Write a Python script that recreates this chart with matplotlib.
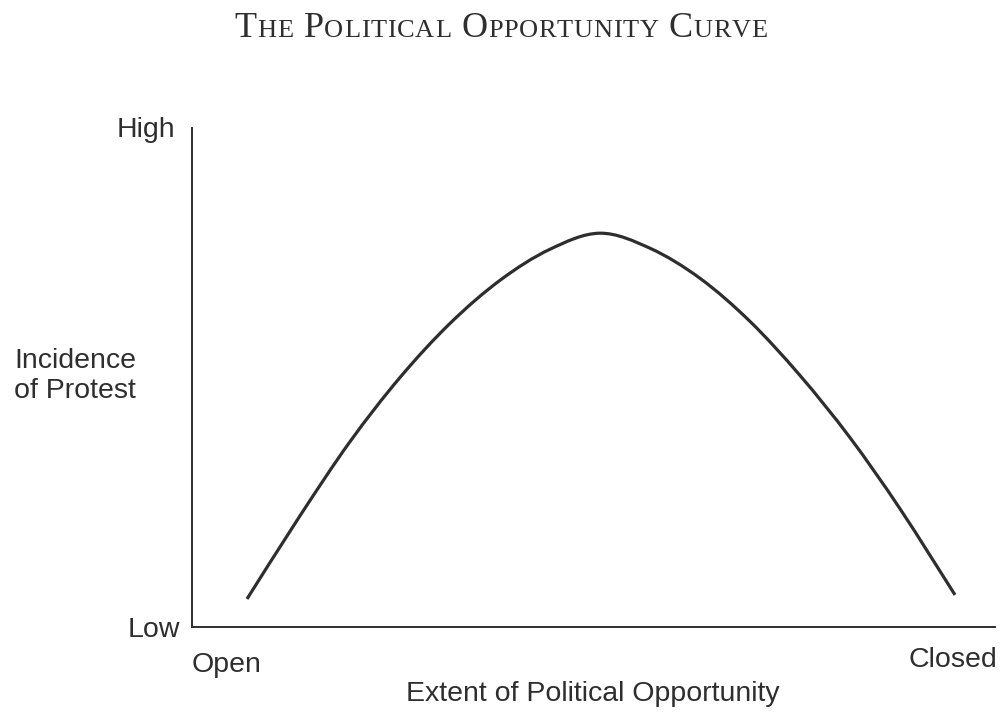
import matplotlib
matplotlib.use("Agg")
import matplotlib.pyplot as plt
from matplotlib.path import Path
from matplotlib.patches import PathPatch

# curve (x: 0 = Open, 100 = Closed; y: 0 = Low, 100 = High)
opportunity = [6.85, 13.45, 19.68, 25.90, 32.13, 38.36, 44.58, 50.81,
               57.04, 63.26, 69.49, 75.72, 81.94, 88.17, 95.02]
protest = [5.62, 22.29, 37.15, 50.00, 60.84, 69.48, 75.70, 78.92,
           75.90, 69.88, 61.24, 50.40, 37.95, 23.69, 6.43]

title_parts = [("T", True), ("HE ", False), ("P", True), ("OLITICAL ", False),
               ("O", True), ("PPORTUNITY ", False), ("C", True), ("URVE", False)]

W, H = 1002, 714
fig = plt.figure(figsize=(W / 100, H / 100), dpi=100)
ax = fig.add_axes([192 / W, (H - 627) / H, (995 - 192) / W, (627 - 128) / H])

ink = "#2e2e2e"

# smooth curve through the read points (Catmull-Rom drawn as cubic Bezier segments)
pts = list(zip(opportunity, protest))
verts = [pts[0]]
codes = [Path.MOVETO]
for i in range(len(pts) - 1):
    p0 = pts[i - 1] if i > 0 else pts[i]
    p1, p2 = pts[i], pts[i + 1]
    p3 = pts[i + 2] if i + 2 < len(pts) else pts[i + 1]
    c1 = (p1[0] + (p2[0] - p0[0]) / 6, p1[1] + (p2[1] - p0[1]) / 6)
    c2 = (p2[0] - (p3[0] - p1[0]) / 6, p2[1] - (p3[1] - p1[1]) / 6)
    verts += [c1, c2, p2]
    codes += [Path.CURVE4] * 3
ax.add_patch(PathPatch(Path(verts, codes), facecolor="none", edgecolor=ink,
                       lw=2.3, capstyle="butt"))

ax.set_xlim(0, 100)
ax.set_ylim(0, 100)
ax.set_xticks([])
ax.set_yticks([])
for side in ["top", "right"]:
    ax.spines[side].set_visible(False)
for side in ["left", "bottom"]:
    ax.spines[side].set_color(ink)
    ax.spines[side].set_linewidth(1.4)

sans = "Liberation Sans"
fs = 20.5
fig.text(175 / W, 1 - 130 / H, "High", ha="right", va="center",
         fontsize=fs, family=sans, color=ink)
fig.text(180 / W, 1 - 630 / H, "Low", ha="right", va="center",
         fontsize=fs, family=sans, color=ink)
fig.text(14 / W, 1 - 376 / H, "Incidence\nof Protest", ha="left", va="center",
         fontsize=fs, family=sans, color=ink, linespacing=1.25)
fig.text(192 / W, 1 - 665 / H, "Open", ha="left", va="center",
         fontsize=fs, family=sans, color=ink)
fig.text(997 / W, 1 - 660 / H, "Closed", ha="right", va="center",
         fontsize=fs, family=sans, color=ink)
fig.text(593 / W, 1 - 694 / H, "Extent of Political Opportunity", ha="center",
         va="center", fontsize=fs, family=sans, color=ink)

# small-caps title, laid out letter by letter
renderer = fig.canvas.get_renderer()
texts = []
for s, big in title_parts:
    for ch in s:
        t = fig.text(0, 1 - 37 / H, ch, ha="left", va="baseline",
                     family="Liberation Serif", fontsize=26 if big else 19,
                     color=ink)
        texts.append(t)
widths = []
for t in texts:
    if t.get_text() == " ":
        widths.append(9.0)
    else:
        widths.append(t.get_window_extent(renderer).width)
span = 533
track = (span - sum(widths)) / (len(texts) - 1)
x = 501 - span / 2
for t, w in zip(texts, widths):
    t.set_x(x / W)
    x += w + track

fig.savefig("out.png", dpi=100, facecolor="white")
